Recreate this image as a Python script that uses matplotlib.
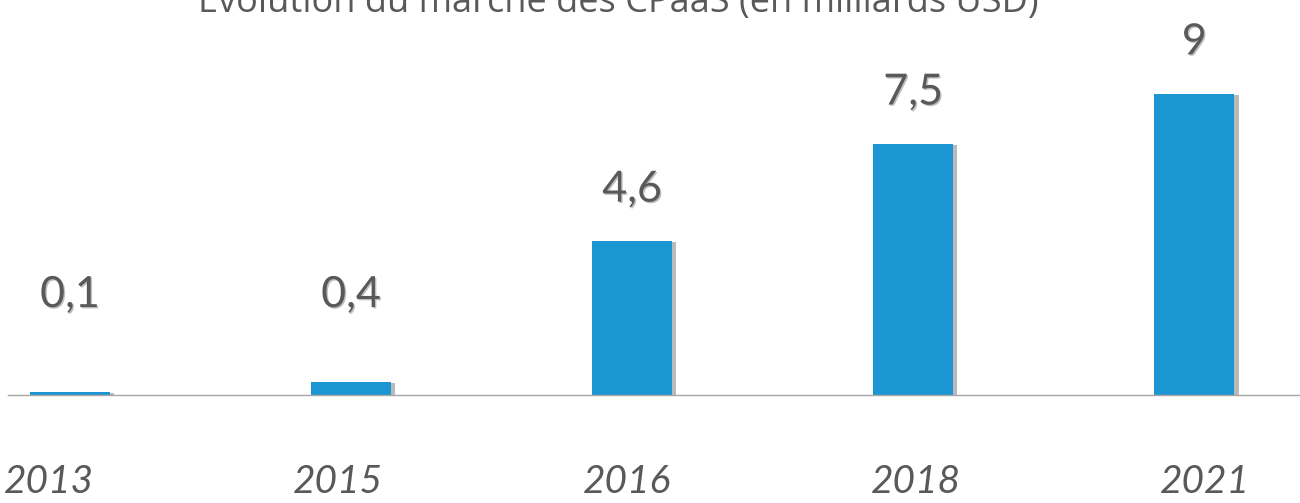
import matplotlib
matplotlib.use("Agg")
import matplotlib.pyplot as plt
import matplotlib.patheffects as pe
import numpy as np

years = ["2013", "2015", "2016", "2018", "2021"]
values = [0.1, 0.4, 4.6, 7.5, 9]
value_labels = ["0,1", "0,4", "4,6", "7,5", "9"]
title = "Evolution du marché des CPaaS (en milliards USD)"

plt.rcParams['font.family'] = ['Lato', 'DejaVu Sans']

bar_color = "#1B96D2"
text_color = "#595959"

fig = plt.figure(figsize=(13, 5.03), dpi=100)
rect = [8 / 1300, 108 / 503, 1292 / 1300, 395 / 503]
ax = fig.add_axes(rect)

x = np.arange(len(years))
bars = ax.bar(x, values, width=0.285, color=bar_color, zorder=2)
for b in bars:
    b.set_path_effects([pe.SimplePatchShadow(offset=(3, -1), shadow_rgbFace="#8c8c8c", alpha=0.6),
                        pe.Normal()])

# labels sit above the bar, but never below a minimum height
for xi, v, lab in zip(x, values, value_labels):
    ax.annotate(lab, (xi, max(v, 1.45)), xytext=(0, 37), textcoords="offset points",
                ha="center", va="center", fontsize=31, color=text_color,
                path_effects=[pe.withSimplePatchShadow(offset=(1, -1), shadow_rgbFace="#000000", alpha=0.25)])

ax.set_xlim(-0.22, 4.376)
ax.set_ylim(0, 11.8)
ax.set_xticks([])
ax.set_yticks([])
for s in ["top", "left", "right"]:
    ax.spines[s].set_visible(False)
ax.spines["bottom"].set_color("#a6a6a6")
ax.spines["bottom"].set_linewidth(1)

# category labels are spaced a little wider than the bars in the original
lab_ax = fig.add_axes(rect, frameon=False)
lab_ax.patch.set_visible(False)
lab_ax.set_xlim(-0.142, 4.329)
lab_ax.set_xticks(x, years)
lab_ax.set_yticks([])
lab_ax.tick_params(axis="x", length=0, pad=50, labelsize=28, labelcolor=text_color)
for t in lab_ax.get_xticklabels():
    t.set_fontstyle("italic")

# the title is partly cut by the top edge, as in the original
fig.text(618 / 1300, 1 - 12 / 503, title, ha="center", va="baseline",
         fontsize=26, color=text_color, family="Open Sans")

fig.savefig("out.png", dpi=100)
